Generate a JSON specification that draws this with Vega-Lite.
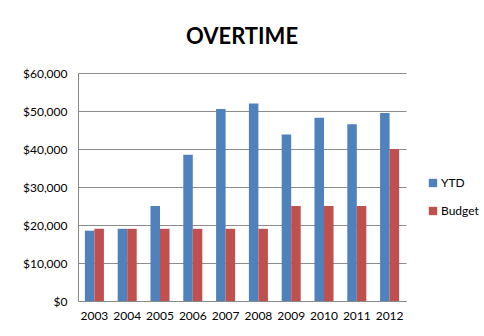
{
  "$schema": "https://vega.github.io/schema/vega-lite/v6.json",
  "width": 328,
  "height": 228,
  "autosize": "none",
  "padding": {"left": 78, "top": 73, "right": 78, "bottom": 35},
  "background": "white",
  "title": {"text": "OVERTIME", "font": "Lato", "fontSize": 22, "fontWeight": "bold", "color": "#000000", "anchor": "middle", "offset": 18},
  "data": {"values": [
    {"year": "2003", "series": "YTD", "value": 18500},
    {"year": "2003", "series": "Budget", "value": 19000},
    {"year": "2004", "series": "YTD", "value": 19000},
    {"year": "2004", "series": "Budget", "value": 19000},
    {"year": "2005", "series": "YTD", "value": 25000},
    {"year": "2005", "series": "Budget", "value": 19000},
    {"year": "2006", "series": "YTD", "value": 38500},
    {"year": "2006", "series": "Budget", "value": 19000},
    {"year": "2007", "series": "YTD", "value": 50500},
    {"year": "2007", "series": "Budget", "value": 19000},
    {"year": "2008", "series": "YTD", "value": 52000},
    {"year": "2008", "series": "Budget", "value": 19000},
    {"year": "2009", "series": "YTD", "value": 43800},
    {"year": "2009", "series": "Budget", "value": 25000},
    {"year": "2010", "series": "YTD", "value": 48200},
    {"year": "2010", "series": "Budget", "value": 25000},
    {"year": "2011", "series": "YTD", "value": 46500},
    {"year": "2011", "series": "Budget", "value": 25000},
    {"year": "2012", "series": "YTD", "value": 49500},
    {"year": "2012", "series": "Budget", "value": 40000}
  ]},
  "mark": {"type": "bar"},
  "encoding": {
    "x": {"field": "year", "type": "nominal", "title": null,
      "scale": {"paddingInner": 0.42, "paddingOuter": 0.21},
      "axis": {"labelAngle": 0, "labelFont": "Lato", "labelFontSize": 12, "labelColor": "#000000", "ticks": false, "domainColor": "#888888", "labelPadding": 9}},
    "xOffset": {"field": "series", "sort": ["YTD", "Budget"]},
    "y": {"field": "value", "type": "quantitative", "title": null,
      "scale": {"domain": [0, 60000], "nice": false},
      "axis": {"values": [0, 10000, 20000, 30000, 40000, 50000, 60000], "format": "$,.0f", "labelFont": "Lato", "labelFontSize": 12, "labelColor": "#000000", "ticks": false, "domainColor": "#888888", "gridColor": "#8c8c8c", "labelPadding": 11}},
    "color": {"field": "series", "type": "nominal", "sort": ["YTD", "Budget"],
      "scale": {"domain": ["YTD", "Budget"], "range": ["#4F81BD", "#C0504D"]},
      "legend": {"title": null, "orient": "none", "legendX": 349, "legendY": 104, "symbolType": "square", "symbolSize": 70, "symbolStrokeWidth": 0, "labelFont": "Lato", "labelFontSize": 12, "labelColor": "#000000", "rowPadding": 16, "labelOffset": 2}}
  },
  "config": {"view": {"stroke": null}}
}
